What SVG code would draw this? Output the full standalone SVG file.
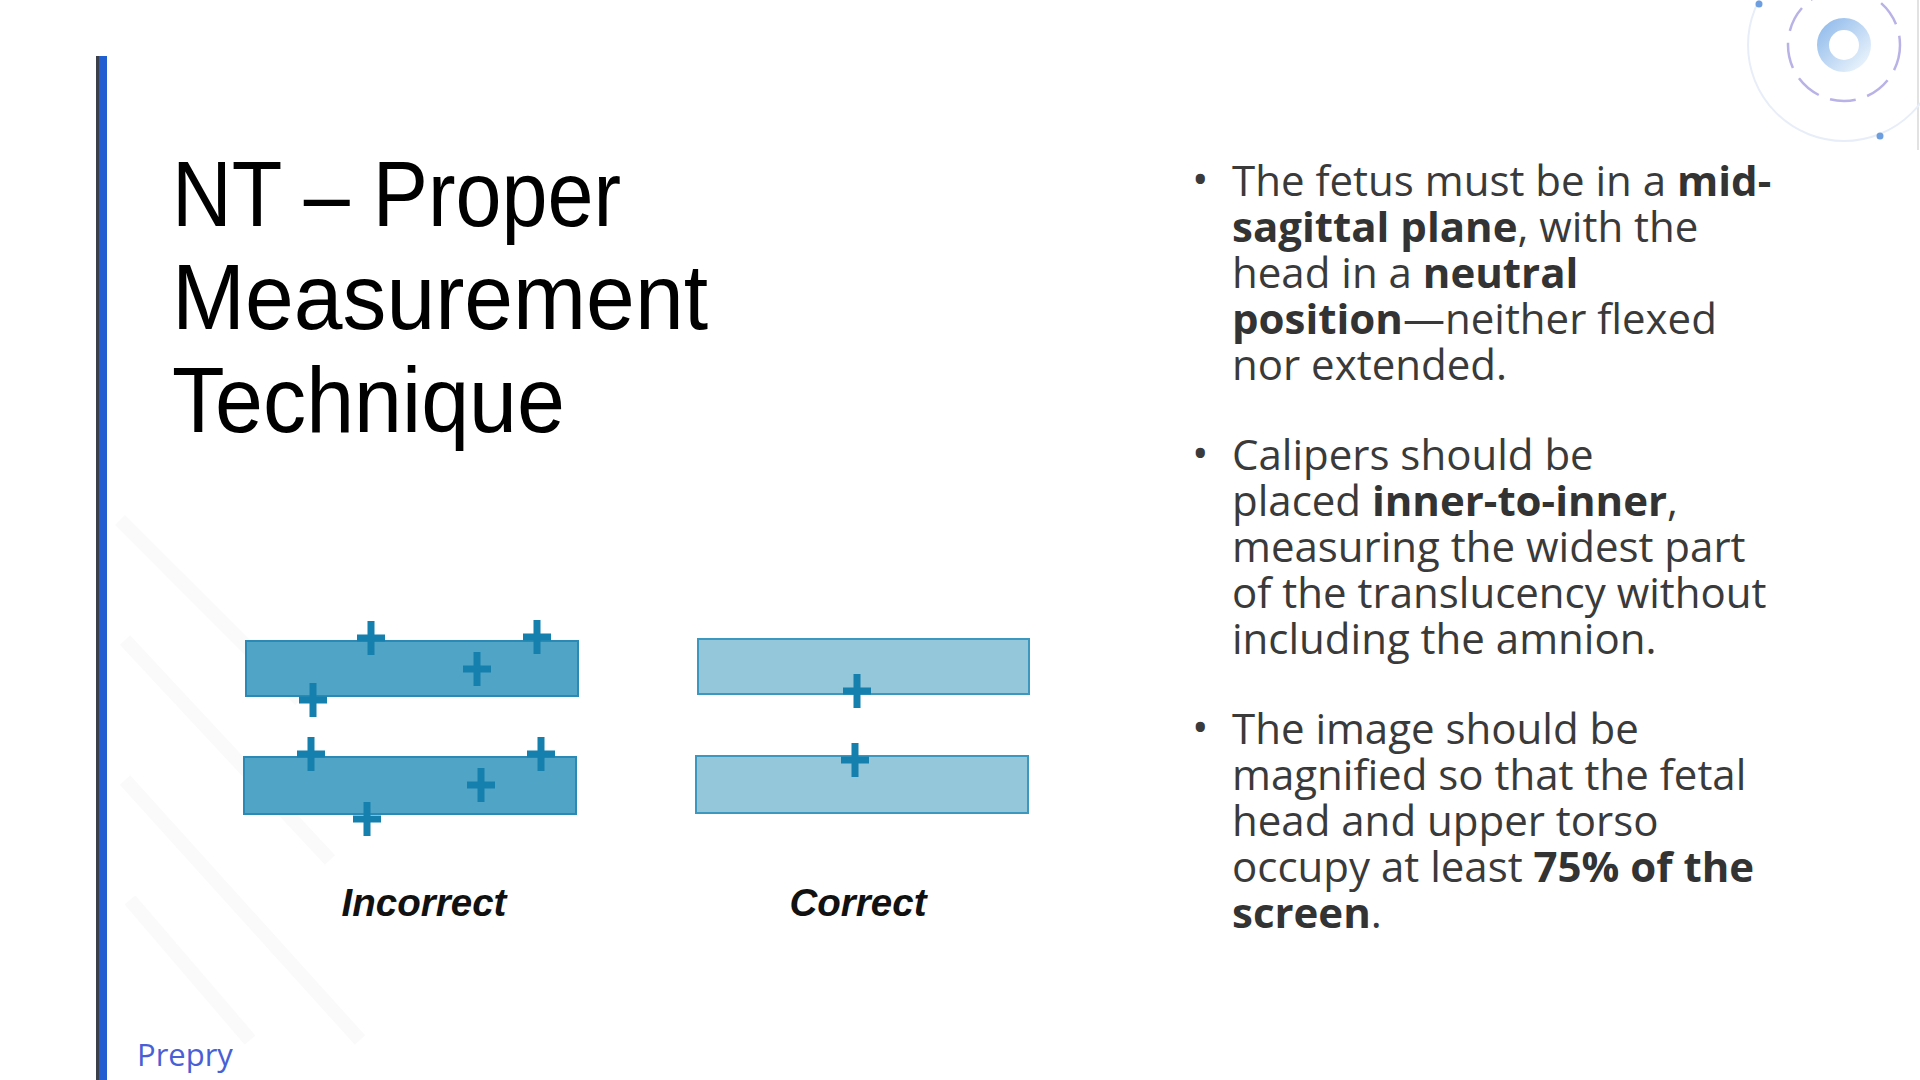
<svg xmlns="http://www.w3.org/2000/svg" xmlns:xlink="http://www.w3.org/1999/xlink" width="1920" height="1080" viewBox="0 0 1920 1080">
  <style>
    .title { font-family: "Liberation Sans", Arial, sans-serif; font-size: 92px; fill: #000000; }
    .body { font-family: "Open Sans", "Noto Sans", sans-serif; font-size: 42px; fill: #3a3a3a; }
    .body .b { font-weight: 700; fill: #333333; }
    .bullet { font-family: "Open Sans", "Noto Sans", sans-serif; font-size: 44px; fill: #3a3a3a; }
    .label { font-family: "Liberation Sans", Arial, sans-serif; font-size: 38.5px; font-weight: 700; font-style: italic; fill: #111111; text-anchor: middle; }
    .footer { font-family: "Open Sans", "Noto Sans", sans-serif; font-size: 31px; fill: #4a5fd6; }
    .barInc { fill: #50a4c5; stroke: #2a8ab5; stroke-width: 2; }
    .barCor { fill: #95c7db; stroke: #3d98bf; stroke-width: 2; }
    .crossArm { fill: #1580ad; }
    .faint { stroke: #fafafa; stroke-width: 14; fill: none; }
  </style>
  <defs>
    <g id="cross">
      <rect class="crossArm" x="-14" y="-3.5" width="28" height="7"/>
      <rect class="crossArm" x="-3.5" y="-17" width="7" height="34"/>
    </g>
    <linearGradient id="ringGrad" x1="0" y1="0" x2="1" y2="1">
      <stop offset="0" stop-color="#94bdec"/>
      <stop offset="1" stop-color="#eaf3fc"/>
    </linearGradient>
  </defs>

  <rect x="0" y="0" width="1920" height="1080" fill="#ffffff"/>

  <g id="background-texture">
    <path class="faint" d="M120 520 L300 700"/>
    <path class="faint" d="M125 640 L330 860"/>
    <path class="faint" d="M125 780 L360 1040"/>
    <path class="faint" d="M130 900 L250 1040"/>
  </g>

  <g id="decoration">
    <line x1="1918" y1="0" x2="1918" y2="150" stroke="#e2e2e2" stroke-width="2"/>
    <circle cx="1844" cy="45" r="96" fill="none" stroke="#e8eef8" stroke-width="2"/>
    <circle cx="1844" cy="45" r="56" fill="none" stroke="#b9b2e6" stroke-width="2.5" stroke-dasharray="26 12"/>
    <circle cx="1844" cy="45" r="21" fill="none" stroke="url(#ringGrad)" stroke-width="12"/>
    <circle cx="1759" cy="4" r="3.5" fill="#6d9fe0"/>
    <circle cx="1880" cy="136" r="3.5" fill="#6d9fe0"/>
  </g>

  <g id="accent-bar">
    <rect x="96" y="56" width="11" height="1024" fill="#1f5fd2"/>
    <rect x="96" y="56" width="3" height="1024" fill="#3a3f4a"/>
  </g>

  <g id="title">
    <text class="title" x="172" y="226" textLength="449" lengthAdjust="spacingAndGlyphs">NT – Proper</text>
    <text class="title" x="172" y="329" textLength="536" lengthAdjust="spacingAndGlyphs">Measurement</text>
    <text class="title" x="172" y="432" textLength="393" lengthAdjust="spacingAndGlyphs">Technique</text>
  </g>

  <g id="node-incorrect">
    <rect class="barInc" x="246" y="641" width="332" height="55"/>
    <rect class="barInc" x="244" y="757" width="332" height="57"/>
    <use xlink:href="#cross" href="#cross" x="371" y="638"/>
    <use xlink:href="#cross" href="#cross" x="537" y="637"/>
    <use xlink:href="#cross" href="#cross" x="477" y="669"/>
    <use xlink:href="#cross" href="#cross" x="313" y="700"/>
    <use xlink:href="#cross" href="#cross" x="311" y="754"/>
    <use xlink:href="#cross" href="#cross" x="541" y="754"/>
    <use xlink:href="#cross" href="#cross" x="481" y="785"/>
    <use xlink:href="#cross" href="#cross" x="367" y="819"/>
    <text class="label" x="424" y="916">Incorrect</text>
  </g>

  <g id="node-correct">
    <rect class="barCor" x="698" y="639" width="331" height="55"/>
    <rect class="barCor" x="696" y="756" width="332" height="57"/>
    <use xlink:href="#cross" href="#cross" x="857" y="691"/>
    <use xlink:href="#cross" href="#cross" x="855" y="760"/>
    <text class="label" x="858" y="916">Correct</text>
  </g>

  <g id="bullet-1">
    <text class="bullet" x="1192" y="195">•</text>
    <text class="body" x="1232" y="196">The fetus must be in a <tspan class="b">mid-</tspan></text>
    <text class="body" x="1232" y="242"><tspan class="b">sagittal plane</tspan>, with the</text>
    <text class="body" x="1232" y="288">head in a <tspan class="b">neutral</tspan></text>
    <text class="body" x="1232" y="334"><tspan class="b">position</tspan>—neither flexed</text>
    <text class="body" x="1232" y="380">nor extended.</text>
  </g>

  <g id="bullet-2">
    <text class="bullet" x="1192" y="469">•</text>
    <text class="body" x="1232" y="470">Calipers should be</text>
    <text class="body" x="1232" y="516">placed <tspan class="b">inner-to-inner</tspan>,</text>
    <text class="body" x="1232" y="562">measuring the widest part</text>
    <text class="body" x="1232" y="608">of the translucency without</text>
    <text class="body" x="1232" y="654">including the amnion.</text>
  </g>

  <g id="bullet-3">
    <text class="bullet" x="1192" y="743">•</text>
    <text class="body" x="1232" y="744">The image should be</text>
    <text class="body" x="1232" y="790">magnified so that the fetal</text>
    <text class="body" x="1232" y="836">head and upper torso</text>
    <text class="body" x="1232" y="882">occupy at least <tspan class="b">75% of the</tspan></text>
    <text class="body" x="1232" y="928"><tspan class="b">screen</tspan>.</text>
  </g>

  <g id="footer">
    <text class="footer" x="137" y="1066">Prepry</text>
  </g>
</svg>
